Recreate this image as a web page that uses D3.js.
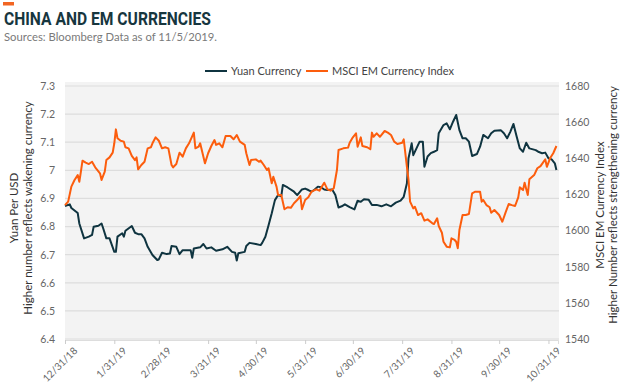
<!DOCTYPE html>
<html>
<head>
<meta charset="utf-8">
<script src="https://cdn.jsdelivr.net/npm/d3@7"></script>
<style>
  body { margin: 0; background: #fff; }
  svg { display: block; font-family: Lato, 'Open Sans', sans-serif; }
  .tick text { fill: #666; }
</style>
</head>
<body>
<div id="chart"></div>
<script>
const yuanDates = ['2018-12-31','2019-01-03','2019-01-04','2019-01-08','2019-01-09','2019-01-12','2019-01-15','2019-01-17','2019-01-18','2019-01-21',
  '2019-01-23','2019-01-24','2019-01-26','2019-01-28','2019-01-31','2019-02-01','2019-02-02','2019-02-05','2019-02-06','2019-02-07',
  '2019-02-11','2019-02-13','2019-02-15','2019-02-17','2019-02-19','2019-02-21','2019-02-24','2019-02-27','2019-02-28','2019-03-02',
  '2019-03-05','2019-03-07','2019-03-08','2019-03-11','2019-03-13','2019-03-15','2019-03-18','2019-03-20','2019-03-21','2019-03-22',
  '2019-03-26','2019-03-28','2019-03-30','2019-04-02','2019-04-05','2019-04-09','2019-04-12','2019-04-15','2019-04-17','2019-04-18',
  '2019-04-19','2019-04-23','2019-04-24','2019-04-26','2019-04-30','2019-05-03','2019-05-04','2019-05-06','2019-05-08','2019-05-10',
  '2019-05-12','2019-05-14','2019-05-16','2019-05-17','2019-05-20','2019-05-24','2019-05-26','2019-05-29','2019-05-31','2019-06-02',
  '2019-06-04','2019-06-06','2019-06-08','2019-06-10','2019-06-12','2019-06-14','2019-06-17','2019-06-19','2019-06-21','2019-06-23',
  '2019-06-25','2019-06-28','2019-07-01','2019-07-03','2019-07-05','2019-07-07','2019-07-10','2019-07-12','2019-07-15','2019-07-18',
  '2019-07-21','2019-07-24','2019-07-27','2019-07-30','2019-08-01','2019-08-03','2019-08-04','2019-08-06','2019-08-07','2019-08-09',
  '2019-08-11','2019-08-13','2019-08-14','2019-08-16','2019-08-18','2019-08-20','2019-08-22','2019-08-23','2019-08-26','2019-08-28',
  '2019-08-30','2019-09-01','2019-09-03','2019-09-05','2019-09-07','2019-09-09','2019-09-11','2019-09-13','2019-09-16','2019-09-18',
  '2019-09-20','2019-09-23','2019-09-25','2019-09-27','2019-10-01','2019-10-03','2019-10-05','2019-10-07','2019-10-09','2019-10-11',
  '2019-10-13','2019-10-15','2019-10-17','2019-10-19','2019-10-23','2019-10-25','2019-10-27','2019-10-29','2019-10-31','2019-11-02',
  '2019-11-04','2019-11-05'];
const yuanValues = [6.873,6.879,6.866,6.848,6.811,6.758,6.764,6.770,6.799,6.803,
  6.811,6.794,6.758,6.758,6.710,6.710,6.764,6.776,6.764,6.785,
  6.802,6.778,6.773,6.773,6.758,6.728,6.699,6.681,6.683,6.707,
  6.702,6.704,6.731,6.728,6.702,6.716,6.716,6.716,6.689,6.722,
  6.726,6.738,6.722,6.726,6.714,6.719,6.728,6.710,6.707,6.679,
  6.705,6.710,6.731,6.742,6.738,6.734,6.742,6.764,6.805,6.847,
  6.894,6.912,6.908,6.948,6.939,6.924,6.912,6.932,6.935,6.930,
  6.924,6.932,6.942,6.940,6.932,6.930,6.932,6.912,6.868,6.872,
  6.879,6.869,6.861,6.892,6.888,6.897,6.895,6.877,6.877,6.872,
  6.879,6.872,6.885,6.892,6.906,6.954,7.043,7.096,7.054,7.078,
  7.102,7.102,7.013,7.049,7.061,7.066,7.072,7.132,7.161,7.167,
  7.146,7.173,7.197,7.143,7.114,7.114,7.102,7.051,7.058,7.084,
  7.126,7.114,7.132,7.141,7.143,7.132,7.114,7.137,7.165,7.120,
  7.078,7.066,7.098,7.078,7.072,7.065,7.061,7.063,7.043,7.039,
  7.025,7.001];

const msciDates = ['2018-12-31','2019-01-02','2019-01-04','2019-01-06','2019-01-08','2019-01-09','2019-01-10','2019-01-11','2019-01-13','2019-01-15',
  '2019-01-17','2019-01-19','2019-01-20','2019-01-22','2019-01-23','2019-01-25','2019-01-26','2019-01-28','2019-01-30','2019-01-31',
  '2019-02-01','2019-02-02','2019-02-04','2019-02-06','2019-02-07','2019-02-09','2019-02-11','2019-02-13','2019-02-14','2019-02-15',
  '2019-02-17','2019-02-19','2019-02-21','2019-02-23','2019-02-24','2019-02-26','2019-02-28','2019-03-02','2019-03-04','2019-03-06',
  '2019-03-08','2019-03-09','2019-03-11','2019-03-13','2019-03-15','2019-03-17','2019-03-19','2019-03-22','2019-03-23','2019-03-25',
  '2019-03-26','2019-03-29','2019-03-31','2019-04-02','2019-04-04','2019-04-05','2019-04-07','2019-04-09','2019-04-11','2019-04-14',
  '2019-04-16','2019-04-18','2019-04-20','2019-04-23','2019-04-24','2019-04-26','2019-04-27','2019-04-30','2019-05-02','2019-05-03',
  '2019-05-05','2019-05-07','2019-05-08','2019-05-10','2019-05-11','2019-05-13','2019-05-14','2019-05-16','2019-05-18','2019-05-20',
  '2019-05-22','2019-05-24','2019-05-26','2019-05-28','2019-05-29','2019-05-31','2019-06-02','2019-06-04','2019-06-07','2019-06-09',
  '2019-06-12','2019-06-14','2019-06-16','2019-06-18','2019-06-20','2019-06-21','2019-06-24','2019-06-27','2019-06-28','2019-06-30',
  '2019-07-02','2019-07-03','2019-07-05','2019-07-06','2019-07-09','2019-07-11','2019-07-12','2019-07-13','2019-07-15','2019-07-17',
  '2019-07-20','2019-07-22','2019-07-24','2019-07-26','2019-07-28','2019-07-31','2019-08-01','2019-08-03','2019-08-04','2019-08-05',
  '2019-08-07','2019-08-08','2019-08-10','2019-08-12','2019-08-14','2019-08-16','2019-08-19','2019-08-20','2019-08-22','2019-08-23',
  '2019-08-25','2019-08-26','2019-08-28','2019-08-30','2019-08-31','2019-09-02','2019-09-03','2019-09-04','2019-09-05','2019-09-07',
  '2019-09-09','2019-09-11','2019-09-13','2019-09-15','2019-09-18','2019-09-19','2019-09-20','2019-09-22','2019-09-24','2019-09-25',
  '2019-09-27','2019-09-30','2019-10-02','2019-10-04','2019-10-06','2019-10-08','2019-10-10','2019-10-12','2019-10-13','2019-10-15',
  '2019-10-16','2019-10-18','2019-10-19','2019-10-22','2019-10-24','2019-10-26','2019-10-29','2019-10-30','2019-11-01','2019-11-03',
  '2019-11-05'];
const msciValues = [1614.1,1616.0,1624.3,1628.0,1630.7,1627.0,1632.6,1638.7,1637.6,1636.8,
  1638.1,1635.0,1633.9,1631.7,1628.0,1632.6,1639.0,1640.5,1643.1,1648.3,
  1656.0,1651.1,1649.7,1649.2,1646.1,1645.5,1641.3,1639.0,1640.5,1633.9,
  1636.3,1638.1,1645.5,1646.1,1648.3,1651.6,1649.7,1645.5,1646.1,1645.5,
  1636.3,1635.0,1636.8,1643.1,1640.9,1645.5,1648.3,1654.2,1645.5,1646.4,
  1648.3,1637.2,1642.8,1646.8,1650.1,1647.4,1648.3,1646.1,1652.3,1652.3,
  1650.5,1652.9,1649.2,1647.4,1642.8,1636.3,1639.0,1639.4,1638.1,1638.7,
  1636.3,1633.5,1634.5,1626.2,1629.8,1624.3,1619.7,1619.7,1611.8,1612.9,
  1612.6,1615.1,1616.9,1619.1,1611.8,1616.9,1618.4,1621.5,1622.8,1622.1,
  1626.5,1622.8,1622.1,1623.4,1633.5,1644.6,1645.5,1645.9,1648.6,1651.6,
  1653.8,1646.4,1651.6,1646.8,1646.1,1645.0,1654.2,1651.9,1653.8,1651.9,
  1655.1,1654.2,1652.9,1649.2,1647.9,1648.6,1650.5,1635.3,1628.0,1616.0,
  1612.3,1613.2,1608.6,1609.6,1605.5,1606.2,1604.0,1603.6,1606.8,1602.5,
  1598.8,1593.8,1591.1,1590.7,1595.7,1594.8,1593.8,1590.2,1600.3,1608.6,
  1608.6,1609.2,1620.6,1621.5,1621.5,1616.0,1616.9,1614.1,1612.9,1609.9,
  1611.4,1608.6,1604.9,1609.9,1614.7,1614.1,1613.6,1618.4,1623.9,1622.4,
  1626.5,1619.7,1628.4,1630.7,1634.5,1635.7,1639.4,1635.3,1640.0,1642.8,
  1646.8];

const xTickDates = ['2018-12-31','2019-01-31','2019-02-28','2019-03-31','2019-04-30','2019-05-31',
  '2019-06-30','2019-07-31','2019-08-31','2019-09-30','2019-10-31'];
const yuanTicks = [6.4, 6.5, 6.6, 6.7, 6.8, 6.9, 7, 7.1, 7.2, 7.3];
const msciTicks = [1540, 1560, 1580, 1600, 1620, 1640, 1660, 1680];

const parse = d3.timeParse('%Y-%m-%d');
const fmtTick = d3.timeFormat('%-m/%-d/%y');

const yuan = yuanDates.map((d, i) => ({ date: parse(d), value: yuanValues[i] }));
const msci = msciDates.map((d, i) => ({ date: parse(d), value: msciValues[i] }));

const W = 624, H = 385;
const plot = { left: 65, right: 559, top: 82, bottom: 341 };

const svg = d3.select('#chart').append('svg')
  .attr('width', W).attr('height', H);

// header
svg.append('rect').attr('x', 3).attr('y', 2).attr('width', 11).attr('height', 3.5).attr('fill', '#f26522');
svg.append('text')
  .attr('x', 4).attr('y', 25)
  .attr('font-family', 'Roboto, sans-serif')
  .attr('font-weight', 700).attr('font-size', 17.5)
  .attr('fill', '#17363f')
  .attr('textLength', 207).attr('lengthAdjust', 'spacingAndGlyphs')
  .text('CHINA AND EM CURRENCIES');
svg.append('text')
  .attr('x', 4).attr('y', 41)
  .attr('font-size', 12).attr('fill', '#7a7a7a')
  .attr('textLength', 213).attr('lengthAdjust', 'spacingAndGlyphs')
  .text('Sources: Bloomberg Data as of 11/5/2019.');

const x = d3.scaleTime()
  .domain([parse('2018-12-31'), parse('2019-11-06')])
  .range([plot.left, plot.right - 1]);

const yL = d3.scaleLinear().domain([6.4, 7.3]).range([339, 86]);
const yR = d3.scaleLinear().domain([1540, 1680]).range([339, 86]);

svg.append('rect')
  .attr('x', plot.left).attr('y', plot.top)
  .attr('width', plot.right - plot.left).attr('height', plot.bottom - plot.top)
  .attr('fill', '#f3f3f3');

// gridlines follow the left axis
svg.append('g').selectAll('line')
  .data(yuanTicks)
  .join('line')
  .attr('x1', plot.left).attr('x2', plot.right)
  .attr('y1', d => yL(d)).attr('y2', d => yL(d))
  .attr('stroke', '#dddddd').attr('stroke-width', 1.2);

const xAxis = svg.append('g')
  .attr('transform', `translate(0,${plot.bottom - 1})`)
  .call(d3.axisBottom(x).tickValues(xTickDates.map(parse)).tickFormat(fmtTick).tickSize(4).tickPadding(3));
xAxis.select('.domain').attr('stroke', '#dddddd');
xAxis.selectAll('.tick line').attr('stroke', '#cccccc');
xAxis.selectAll('.tick text')
  .attr('font-size', 10)
  .attr('font-family', 'Lato, sans-serif')
  .attr('text-anchor', 'end')
  .attr('transform', 'translate(4,3) rotate(-45)')
  .attr('dy', '0.5em');

const leftAxis = svg.append('g')
  .attr('transform', `translate(${plot.left - 8},0)`)
  .call(d3.axisLeft(yL).tickValues(yuanTicks).tickFormat(d3.format('~g')).tickSize(0).tickPadding(2));
leftAxis.select('.domain').remove();
leftAxis.selectAll('text').attr('font-size', 10.5).attr('font-family', 'Lato, sans-serif');

const rightAxis = svg.append('g')
  .attr('transform', `translate(${plot.right + 4},0)`)
  .call(d3.axisRight(yR).tickValues(msciTicks).tickFormat(d3.format('d')).tickSize(0).tickPadding(2));
rightAxis.select('.domain').remove();
rightAxis.selectAll('text').attr('font-size', 10.5).attr('font-family', 'Lato, sans-serif');

// axis titles
const leftTitle = svg.append('text')
  .attr('transform', 'translate(14,208) rotate(-90)')
  .attr('text-anchor', 'middle').attr('font-size', 11.5).attr('fill', '#333');
leftTitle.append('tspan').attr('x', 0).attr('dy', '0.35em').text('Yuan Per USD');
leftTitle.append('tspan').attr('x', 0).attr('dy', '1.2em').text('Higher number reflects wakening currency');

const rightTitle = svg.append('text')
  .attr('transform', 'translate(600,205) rotate(-90)')
  .attr('text-anchor', 'middle').attr('font-size', 11.5).attr('fill', '#333');
rightTitle.append('tspan').attr('x', 0).attr('dy', '0.35em').text('MSCI EM Currency Index');
rightTitle.append('tspan').attr('x', 0).attr('dy', '1.1em').text('Higher Number reflects strengthening currency');

// lines
const lineL = d3.line().x(d => x(d.date)).y(d => yL(d.value));
const lineR = d3.line().x(d => x(d.date)).y(d => yR(d.value));

svg.append('path').datum(yuan)
  .attr('d', lineL).attr('fill', 'none')
  .attr('stroke', '#0f3440').attr('stroke-width', 2).attr('stroke-linejoin', 'round');

svg.append('path').datum(msci)
  .attr('d', lineR).attr('fill', 'none')
  .attr('stroke', '#fc5d0d').attr('stroke-width', 2).attr('stroke-linejoin', 'round');

// legend
const legendItems = [
  { label: 'Yuan Currency', color: '#0f3440', x: 205 },
  { label: 'MSCI EM Currency Index', color: '#fc5d0d', x: 306 }
];
const legend = svg.append('g');
legend.selectAll('line')
  .data(legendItems)
  .join('line')
  .attr('x1', d => d.x).attr('x2', d => d.x + 22)
  .attr('y1', 71).attr('y2', 71)
  .attr('stroke', d => d.color).attr('stroke-width', 2);
legend.selectAll('text')
  .data(legendItems)
  .join('text')
  .attr('x', d => d.x + 26).attr('y', 71)
  .attr('dy', '0.35em')
  .attr('font-size', 11).attr('fill', '#444')
  .text(d => d.label);
</script>
</body>
</html>
